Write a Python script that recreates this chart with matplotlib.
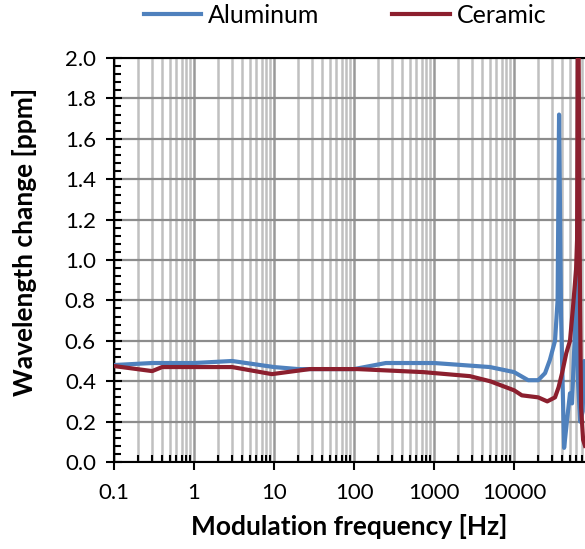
import numpy as np
import matplotlib.pyplot as plt
from matplotlib.ticker import FixedLocator, LogLocator, MultipleLocator, NullFormatter

plt.rcParams['font.family'] = ['Lato', 'DejaVu Sans']

# values
alu_f = [0.1, 0.3, 1, 3, 10, 20, 100, 250, 1000, 5000, 10000, 15000, 20000,
         24400, 28000, 32500, 35000, 36500, 38700, 42200, 46000, 50000,
         53000, 57000, 59500, 63000, 67000, 72000, 75000, 77000]
alu_v = [0.48, 0.49, 0.49, 0.50, 0.47, 0.46, 0.46, 0.49, 0.49, 0.47, 0.445,
         0.405, 0.405, 0.44, 0.505, 0.60, 0.80, 1.72, 0.72, 0.07, 0.21, 0.34,
         0.29, 0.60, 0.95, 0.40, 0.20, 0.25, 0.50, 0.35]

cer_f = [0.1, 0.3, 0.4, 3, 9.4, 28, 110, 730, 2800, 5000, 10000, 12500,
         20000, 26000, 32500, 36000, 39800, 45000, 50000, 54600, 59500,
         61300, 63100, 66800, 68800, 72900, 77000]
cer_v = [0.475, 0.45, 0.47, 0.47, 0.435, 0.46, 0.46, 0.445, 0.425, 0.40,
         0.355, 0.33, 0.32, 0.30, 0.32, 0.37, 0.44, 0.54, 0.60, 0.77, 0.95,
         1.10, 2.50, 0.77, 0.27, 0.11, 0.08]

x_ticks = [0.1, 1, 10, 100, 1000, 10000]
x_labels = ['0.1', '1', '10', '100', '1000', '10000']

fig = plt.figure(figsize=(5.85, 5.49), dpi=100)
ax = fig.add_axes([114/585, 87/549, 471/585, 404/549])

ax.plot(alu_f, alu_v, color='#4F81BD', lw=3, label='Aluminum', zorder=3)
ax.plot(cer_f, cer_v, color='#8C1F2E', lw=3, label='Ceramic', zorder=4)

ax.set_xscale('log')
ax.set_xlim(0.1, 77000)
ax.set_ylim(0, 2.0)

ax.xaxis.set_major_locator(FixedLocator(x_ticks))
ax.set_xticklabels(x_labels)
ax.xaxis.set_minor_locator(LogLocator(base=10, subs=np.arange(2, 10)))
ax.xaxis.set_minor_formatter(NullFormatter())
ax.yaxis.set_major_locator(MultipleLocator(0.2))
ax.yaxis.set_minor_locator(MultipleLocator(0.04))
ax.yaxis.set_major_formatter(plt.FormatStrFormatter('%.1f'))

ax.grid(which='major', axis='y', color='#8c8c8c', lw=1.6)
ax.grid(which='major', axis='x', color='#999999', lw=1.8)
ax.grid(which='minor', axis='x', color='#c0c0c0', lw=1.8)
ax.set_axisbelow(True)

for s in ['left', 'bottom', 'top']:
    ax.spines[s].set_linewidth(1.5)
    ax.spines[s].set_color('black')
ax.spines['right'].set_visible(False)

ax.tick_params(axis='x', which='major', direction='out', length=6, width=1.5,
               labelsize=16, pad=9)
ax.tick_params(axis='x', which='minor', direction='in', length=5, width=1.5)
ax.tick_params(axis='y', which='major', direction='inout', length=12, width=1.5,
               labelsize=16, pad=7)
ax.tick_params(axis='y', which='minor', direction='in', length=5, width=1.5)

ax.set_xlabel('Modulation frequency [Hz]', fontsize=19, fontweight='bold')
ax.set_ylabel('Wavelength change [ppm]', fontsize=19, fontweight='bold')
ax.xaxis.set_label_coords(0.5, -0.128)
ax.yaxis.set_label_coords(-0.163, 0.545)

fig.legend(loc='center', bbox_to_anchor=(0.59, 0.972), ncol=2, frameon=False,
           fontsize=18, handlelength=2.3, handletextpad=0.28, columnspacing=2.9)

fig.savefig('out.png', dpi=100)
